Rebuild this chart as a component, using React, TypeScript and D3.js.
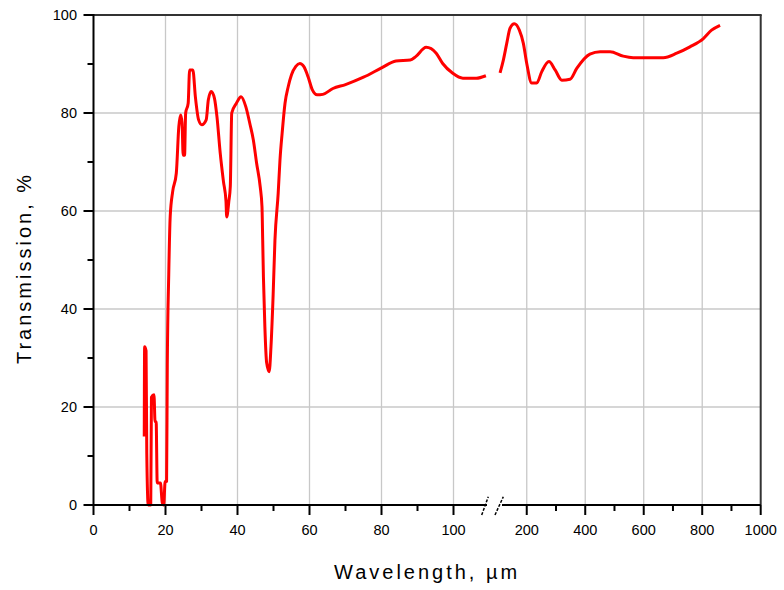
import React from "react";
import * as d3 from "d3";

// Left segment (0–110 µm) data: [wavelength µm, transmission %]
const leftWavelength = [
  14.1, 14.2, 14.6, 14.8, 15.2, 15.9, 16.1, 16.8, 17.1, 17.4, 17.7, 18.6, 19.1, 19.5, 19.9, 20.3,
  20.5, 20.9, 21.3, 22.0, 23.0, 23.7, 24.2, 24.6, 24.9, 25.3, 25.6, 26.3, 26.7, 27.6, 28.3, 29.2,
  30.1, 31.3, 31.9, 32.7, 33.6, 34.3, 35.2, 36.1, 36.8, 37.0, 37.6, 38.0, 38.4, 39.7, 41.0, 42.3,
  43.5, 44.4, 45.3, 46.3, 46.8, 47.0, 47.2, 47.6, 48.1, 48.8, 49.3, 49.9, 50.4, 51.3, 51.8, 52.4,
  53.2, 54.1, 55.0, 56.2, 57.3, 58.4, 59.6, 60.8, 62.1, 63.7, 66.5, 70, 75, 80, 84, 88, 89.5,
  92.4, 95.2, 97, 99.8, 102.6, 106.3, 109,
];
const leftTransmission = [
  14, 32.3, 31.5, 10.5, 0, 0, 22, 22.5, 17, 17, 4.5, 4.5, 0.5, 0, 4.8, 4.8,
  28.6, 47, 58.8, 64, 67.7, 77.2, 79.6, 78, 71.4, 71.4, 80, 82, 88.8, 88.8, 83.3, 78.6,
  77.6, 78.6, 82.7, 84.4, 83, 79.2, 71.8, 66, 62, 58.8, 62, 65, 80, 82, 83.3, 81.3,
  77.6, 74.5, 69.8, 65, 60.9, 54, 46.6, 36.4, 29, 27.2, 32.3, 42.9, 54, 63.6, 70.4, 75.9,
  82, 85.4, 87.8, 89.5, 90.1, 89.5, 87.4, 84.7, 83.7, 83.8, 85, 85.8, 87.3, 89.2, 90.6, 90.8, 91.5,
  93.4, 92.2, 90.1, 88.1, 87.1, 87.1, 87.6,
];

// Right segment (100–1000 µm) data
const rightWavelength = [
  108.7, 120, 131.6, 142.9, 157.6, 174.7, 188.4, 200, 217, 234, 251, 276, 297, 320, 348, 371,
  416, 451, 485, 530, 564, 667, 713, 758, 804, 832, 861,
];
const rightTransmission = [
  88.2, 90.8, 94.2, 97.3, 98.2, 96.9, 94.2, 90.1, 86.1, 86.1, 88.4, 90.5, 88.8, 86.7, 86.9, 89.1,
  92, 92.5, 92.5, 91.6, 91.3, 91.3, 92.2, 93.5, 95.2, 96.9, 97.9,
];

const leftMajorTicks = [0, 20, 40, 60, 80, 100];
const leftMinorTicks = [10, 30, 50, 70, 90];
const rightMajorTicks = [200, 400, 600, 800, 1000];
const rightMinorTicks = [300, 500, 700, 900];
const yMajorTicks = [0, 20, 40, 60, 80, 100];
const yMinorTicks = [10, 30, 50, 70, 90];

const xTitle = "Wavelength, µm";
const yTitle = "Transmission, %";

export default function App() {
  const W = 784;
  const H = 590;
  const left = 93.5;
  const right = 760.7;
  const top = 15;
  const bottom = 505;

  const y = d3.scaleLinear().domain([0, 100]).range([bottom, top]);
  const xL = d3.scaleLinear().domain([0, 110]).range([left, 489.5]);
  const xR = d3.scaleLinear().domain([100, 1000]).range([497.5, right]);

  const leftData = leftWavelength.map((w, i) => [w, leftTransmission[i]] as [number, number]);
  const rightData = rightWavelength.map((w, i) => [w, rightTransmission[i]] as [number, number]);

  const lineL = d3
    .line<[number, number]>()
    .x((d) => xL(d[0]))
    .y((d) => y(d[1]))
    .curve(d3.curveMonotoneX);
  const lineR = d3
    .line<[number, number]>()
    .x((d) => xR(d[0]))
    .y((d) => y(d[1]))
    .curve(d3.curveMonotoneX);

  const font = "'Liberation Sans', Arial, sans-serif";
  const gridColor = "#c8c8c8";
  const breakL = 487;
  const breakR = 502;

  const xTickEntries = [
    ...leftMajorTicks.map((v) => ({ x: xL(v), label: String(v), major: true, grid: v !== 0 })),
    ...leftMinorTicks.map((v) => ({ x: xL(v), label: "", major: false, grid: false })),
    ...rightMajorTicks.map((v) => ({ x: xR(v), label: String(v), major: true, grid: v !== 1000 })),
    ...rightMinorTicks.map((v) => ({ x: xR(v), label: "", major: false, grid: false })),
  ];

  return (
    <svg
      width={W}
      height={H}
      style={{ position: "absolute", left: 0, top: 0, display: "block", background: "#fff" }}
    >
      {/* grid */}
      {yMajorTicks
        .filter((v) => v !== 0 && v !== 100)
        .map((v) => (
          <line key={"gy" + v} x1={left} x2={right} y1={y(v)} y2={y(v)} stroke={gridColor} strokeWidth={1.3} />
        ))}
      {xTickEntries
        .filter((t) => t.grid)
        .map((t, i) => (
          <line key={"gx" + i} x1={t.x} x2={t.x} y1={top} y2={bottom} stroke={gridColor} strokeWidth={1.3} />
        ))}

      {/* data */}
      <path d={lineL(leftData) || ""} fill="none" stroke="#ff0000" strokeWidth={3} strokeLinejoin="round" />
      <path d={lineR(rightData) || ""} fill="none" stroke="#ff0000" strokeWidth={3} strokeLinejoin="round" />

      {/* frame: top and right */}
      <line x1={left} x2={right + 1} y1={top} y2={top} stroke="#333" strokeWidth={2} />
      <line x1={right} x2={right} y1={top} y2={bottom} stroke="#333" strokeWidth={2} />

      {/* left axis */}
      <line x1={left} x2={left} y1={top - 1} y2={bottom + 1} stroke="#000" strokeWidth={2} />
      {yMajorTicks.map((v) => (
        <g key={"yt" + v}>
          <line x1={left - 10} x2={left} y1={y(v)} y2={y(v)} stroke="#000" strokeWidth={2} />
          <text x={77} y={y(v) + 5} textAnchor="end" fontFamily={font} fontSize={14.5} fill="#000">
            {v}
          </text>
        </g>
      ))}
      {yMinorTicks.map((v) => (
        <line key={"ym" + v} x1={left - 6} x2={left} y1={y(v)} y2={y(v)} stroke="#000" strokeWidth={2} />
      ))}

      {/* bottom axis with break */}
      <line x1={left} x2={breakL} y1={bottom} y2={bottom} stroke="#000" strokeWidth={2} />
      <line x1={breakR} x2={right} y1={bottom} y2={bottom} stroke="#000" strokeWidth={2} />
      <line x1={481.7} y1={515} x2={488.3} y2={496.7} stroke="#000" strokeWidth={1.5} strokeDasharray="3 1.5" />
      <line x1={495} y1={515} x2={503.3} y2={496.7} stroke="#000" strokeWidth={1.5} strokeDasharray="3 1.5" />
      {xTickEntries.map((t, i) => (
        <g key={"xt" + i}>
          <line
            x1={t.x}
            x2={t.x}
            y1={bottom}
            y2={bottom + (t.major ? 10 : 6)}
            stroke="#000"
            strokeWidth={2}
          />
          {t.label && (
            <text x={t.x} y={535} textAnchor="middle" fontFamily={font} fontSize={14.5} fill="#000">
              {t.label}
            </text>
          )}
        </g>
      ))}

      {/* titles */}
      <text
        x={(left + right) / 2}
        y={579}
        textAnchor="middle"
        fontFamily={font}
        fontSize={20}
        letterSpacing={3}
        fill="#000"
      >
        {xTitle}
      </text>
      <text
        transform={`translate(31, 268) rotate(-90)`}
        textAnchor="middle"
        fontFamily={font}
        fontSize={20}
        letterSpacing={3}
        fill="#000"
      >
        {yTitle}
      </text>
    </svg>
  );
}
